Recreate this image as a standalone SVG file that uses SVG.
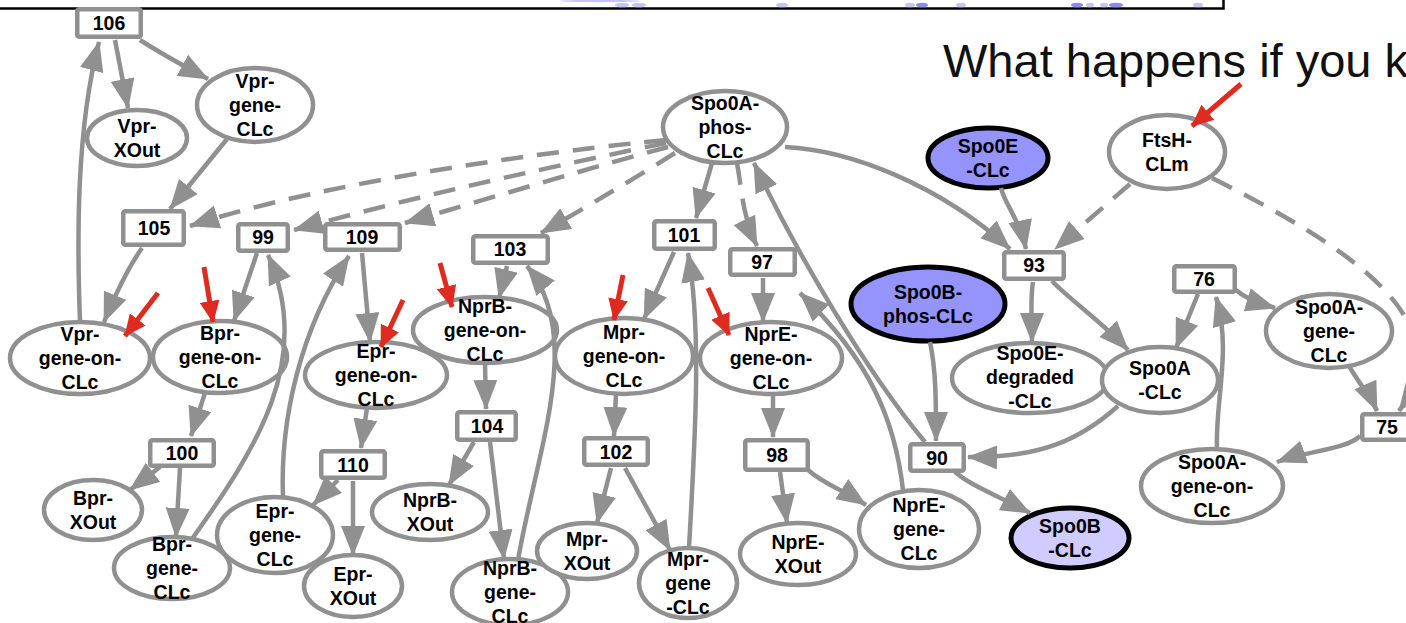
<svg xmlns="http://www.w3.org/2000/svg" width="1406" height="623" viewBox="0 0 1406 623">
<style>
.n ellipse{fill:#fff;stroke:#909090;stroke-width:4.5}
.n.blue ellipse{fill:#9494fc;stroke:#000;stroke-width:5}
.n.lav ellipse{fill:#d0ccff;stroke:#000;stroke-width:5}
.b rect{fill:#fff;stroke:#909090;stroke-width:4.5}
.t{font-family:"Liberation Sans",Arial,Helvetica,sans-serif;font-weight:bold;font-size:19.5px;text-anchor:middle;fill:#000}
#edges path{fill:none;stroke:#909090;stroke-width:4.5;marker-end:url(#ah)}
#edges path.d{stroke-dasharray:22 14}
#marks path{fill:none;stroke:#df2a20;stroke-width:5;marker-end:url(#rh)}
.tiny{fill:#c4c4f6;stroke:none}
.tinyd{fill:#8a8aec;stroke:none}
</style>
<defs>
<marker id="ah" viewBox="0 0 30 24" refX="29" refY="12" markerWidth="30" markerHeight="24" markerUnits="userSpaceOnUse" orient="auto"><path d="M0,0L30,12L0,24z" fill="#909090"/></marker>
<marker id="rh" viewBox="0 0 22 20" refX="21" refY="10" markerWidth="22" markerHeight="20" markerUnits="userSpaceOnUse" orient="auto"><path d="M0,0L22,10L0,20z" fill="#df2a20"/></marker>
</defs>
<rect x="0" y="0" width="1406" height="623" fill="#fff"/>
<g id="frame">
<path d="M0,8.5H1223.5V0" fill="none" stroke="#000" stroke-width="2.5"/>
<ellipse class="tiny" cx="600" cy="1" rx="40" ry="1.2"/>
<ellipse class="tiny" cx="622" cy="5" rx="7" ry="2.3"/>
<ellipse class="tiny" cx="639" cy="5" rx="7" ry="2.3"/>
<ellipse class="tiny" cx="782" cy="5" rx="6" ry="2.3"/>
<ellipse class="tiny" cx="910" cy="5" rx="5" ry="2.3"/>
<ellipse class="tinyd" cx="922" cy="5" rx="6" ry="2.3"/>
<ellipse class="tiny" cx="961" cy="5" rx="5" ry="2.3"/>
<ellipse class="tinyd" cx="1077" cy="5" rx="6" ry="2.3"/>
<ellipse class="tiny" cx="1090" cy="5" rx="4" ry="2.3"/>
<ellipse class="tiny" cx="1104" cy="5" rx="4" ry="2.3"/>
<ellipse class="tinyd" cx="1116" cy="5" rx="7" ry="2.3"/>
<ellipse class="tiny" cx="1198" cy="5" rx="5" ry="2.3"/>
</g>
<text x="943" y="77" font-family="Liberation Sans,Arial,Helvetica,sans-serif" font-size="47" fill="#111">What happens if you k</text>

<g id="n_VprXOut" class="n"><ellipse cx="137" cy="138" rx="50" ry="28"/><text class="t" y="133"><tspan x="137">Vpr-</tspan><tspan x="137" dy="24">XOut</tspan></text></g>
<g id="n_VprGene" class="n"><ellipse cx="255" cy="105" rx="58" ry="37"/><text class="t" y="88"><tspan x="255">Vpr-</tspan><tspan x="255" dy="24">gene-</tspan><tspan x="255" dy="24">CLc</tspan></text></g>
<g id="n_VprOn" class="n"><ellipse cx="80" cy="358" rx="70" ry="36"/><text class="t" y="341"><tspan x="80">Vpr-</tspan><tspan x="80" dy="24">gene-on-</tspan><tspan x="80" dy="24">CLc</tspan></text></g>
<g id="n_BprOn" class="n"><ellipse cx="220" cy="357" rx="67" ry="36"/><text class="t" y="340"><tspan x="220">Bpr-</tspan><tspan x="220" dy="24">gene-on-</tspan><tspan x="220" dy="24">CLc</tspan></text></g>
<g id="n_BprXOut" class="n"><ellipse cx="93" cy="510" rx="49" ry="30"/><text class="t" y="505"><tspan x="93">Bpr-</tspan><tspan x="93" dy="24">XOut</tspan></text></g>
<g id="n_BprGene" class="n"><ellipse cx="172" cy="568" rx="58" ry="31"/><text class="t" y="551"><tspan x="172">Bpr-</tspan><tspan x="172" dy="24">gene-</tspan><tspan x="172" dy="24">CLc</tspan></text></g>
<g id="n_EprOn" class="n"><ellipse cx="376" cy="375" rx="71" ry="33"/><text class="t" y="358"><tspan x="376">Epr-</tspan><tspan x="376" dy="24">gene-on-</tspan><tspan x="376" dy="24">CLc</tspan></text></g>
<g id="n_EprGene" class="n"><ellipse cx="275" cy="535" rx="58" ry="38"/><text class="t" y="518"><tspan x="275">Epr-</tspan><tspan x="275" dy="24">gene-</tspan><tspan x="275" dy="24">CLc</tspan></text></g>
<g id="n_EprXOut" class="n"><ellipse cx="353" cy="586" rx="49" ry="31"/><text class="t" y="581"><tspan x="353">Epr-</tspan><tspan x="353" dy="24">XOut</tspan></text></g>
<g id="n_NprBOn" class="n"><ellipse cx="485" cy="330" rx="72" ry="33"/><text class="t" y="313"><tspan x="485">NprB-</tspan><tspan x="485" dy="24">gene-on-</tspan><tspan x="485" dy="24">CLc</tspan></text></g>
<g id="n_NprBXOut" class="n"><ellipse cx="430" cy="512" rx="58" ry="28"/><text class="t" y="507"><tspan x="430">NprB-</tspan><tspan x="430" dy="24">XOut</tspan></text></g>
<g id="n_NprBGene" class="n"><ellipse cx="510" cy="592" rx="58" ry="33"/><text class="t" y="575"><tspan x="510">NprB-</tspan><tspan x="510" dy="24">gene-</tspan><tspan x="510" dy="24">CLc</tspan></text></g>
<g id="n_MprOn" class="n"><ellipse cx="624" cy="356" rx="69" ry="38"/><text class="t" y="339"><tspan x="624">Mpr-</tspan><tspan x="624" dy="24">gene-on-</tspan><tspan x="624" dy="24">CLc</tspan></text></g>
<g id="n_MprXOut" class="n"><ellipse cx="587" cy="551" rx="50" ry="28"/><text class="t" y="546"><tspan x="587">Mpr-</tspan><tspan x="587" dy="24">XOut</tspan></text></g>
<g id="n_MprGene" class="n"><ellipse cx="688" cy="583" rx="49" ry="35"/><text class="t" y="566"><tspan x="688">Mpr-</tspan><tspan x="688" dy="24">gene</tspan><tspan x="688" dy="24">-CLc</tspan></text></g>
<g id="n_NprEOn" class="n"><ellipse cx="771" cy="358" rx="71" ry="36"/><text class="t" y="341"><tspan x="771">NprE-</tspan><tspan x="771" dy="24">gene-on-</tspan><tspan x="771" dy="24">CLc</tspan></text></g>
<g id="n_NprEXOut" class="n"><ellipse cx="798" cy="554" rx="58" ry="31"/><text class="t" y="549"><tspan x="798">NprE-</tspan><tspan x="798" dy="24">XOut</tspan></text></g>
<g id="n_NprEGene" class="n"><ellipse cx="919" cy="529" rx="60" ry="39"/><text class="t" y="512"><tspan x="919">NprE-</tspan><tspan x="919" dy="24">gene-</tspan><tspan x="919" dy="24">CLc</tspan></text></g>
<g id="n_Spo0APhos" class="n"><ellipse cx="725" cy="127" rx="62" ry="36"/><text class="t" y="110"><tspan x="725">Spo0A-</tspan><tspan x="725" dy="24">phos-</tspan><tspan x="725" dy="24">CLc</tspan></text></g>
<g id="n_Spo0E" class="n blue"><ellipse cx="988" cy="158" rx="60" ry="30"/><text class="t" y="153"><tspan x="988">Spo0E</tspan><tspan x="988" dy="24">-CLc</tspan></text></g>
<g id="n_FtsH" class="n"><ellipse cx="1167" cy="152" rx="58" ry="37"/><text class="t" y="147"><tspan x="1167">FtsH-</tspan><tspan x="1167" dy="24">CLm</tspan></text></g>
<g id="n_Spo0BPhos" class="n blue"><ellipse cx="928" cy="304" rx="77" ry="37"/><text class="t" y="299"><tspan x="928">Spo0B-</tspan><tspan x="928" dy="24">phos-CLc</tspan></text></g>
<g id="n_Spo0EDeg" class="n"><ellipse cx="1030" cy="378" rx="78" ry="35"/><text class="t" y="360"><tspan x="1030">Spo0E-</tspan><tspan x="1030" dy="24">degraded</tspan><tspan x="1030" dy="24">-CLc</tspan></text></g>
<g id="n_Spo0A" class="n"><ellipse cx="1160" cy="380" rx="58" ry="33"/><text class="t" y="375"><tspan x="1160">Spo0A</tspan><tspan x="1160" dy="24">-CLc</tspan></text></g>
<g id="n_Spo0AGene" class="n"><ellipse cx="1329" cy="331" rx="63" ry="37"/><text class="t" y="314"><tspan x="1329">Spo0A-</tspan><tspan x="1329" dy="24">gene-</tspan><tspan x="1329" dy="24">CLc</tspan></text></g>
<g id="n_Spo0AOn" class="n"><ellipse cx="1212" cy="486" rx="71" ry="37"/><text class="t" y="469"><tspan x="1212">Spo0A-</tspan><tspan x="1212" dy="24">gene-on-</tspan><tspan x="1212" dy="24">CLc</tspan></text></g>
<g id="n_Spo0B" class="n lav"><ellipse cx="1070" cy="538" rx="59" ry="30"/><text class="t" y="533"><tspan x="1070">Spo0B</tspan><tspan x="1070" dy="24">-CLc</tspan></text></g>

<g id="r106" class="b"><rect x="77.25" y="9.25" width="63.5" height="27.5" rx="2"/><text class="t" x="109" y="30">106</text></g>
<g id="r105" class="b"><rect x="123.25" y="211.25" width="60.5" height="33.5" rx="2"/><text class="t" x="154" y="235">105</text></g>
<g id="r99" class="b"><rect x="238.25" y="224.25" width="49.5" height="26.5" rx="2"/><text class="t" x="263" y="244">99</text></g>
<g id="r109" class="b"><rect x="325.25" y="224.25" width="74.5" height="25.5" rx="2"/><text class="t" x="362" y="244">109</text></g>
<g id="r103" class="b"><rect x="473.25" y="236.25" width="74.5" height="26.5" rx="2"/><text class="t" x="510" y="256">103</text></g>
<g id="r101" class="b"><rect x="654.25" y="221.25" width="60.5" height="27.5" rx="2"/><text class="t" x="684" y="242">101</text></g>
<g id="r97" class="b"><rect x="730.25" y="249.25" width="64.5" height="25.5" rx="2"/><text class="t" x="762" y="269">97</text></g>
<g id="r93" class="b"><rect x="1004.25" y="252.25" width="59.5" height="26.5" rx="2"/><text class="t" x="1034" y="272">93</text></g>
<g id="r76" class="b"><rect x="1174.25" y="266.25" width="60.5" height="25.5" rx="2"/><text class="t" x="1204" y="286">76</text></g>
<g id="r100" class="b"><rect x="150.25" y="440.25" width="63.5" height="25.5" rx="2"/><text class="t" x="182" y="460">100</text></g>
<g id="r110" class="b"><rect x="321.25" y="451.25" width="63.5" height="26.5" rx="2"/><text class="t" x="353" y="472">110</text></g>
<g id="r104" class="b"><rect x="457.25" y="412.25" width="58.5" height="27.5" rx="2"/><text class="t" x="487" y="433">104</text></g>
<g id="r102" class="b"><rect x="584.25" y="438.25" width="63.5" height="26.5" rx="2"/><text class="t" x="616" y="459">102</text></g>
<g id="r98" class="b"><rect x="745.25" y="440.25" width="62.5" height="29.5" rx="2"/><text class="t" x="777" y="462">98</text></g>
<g id="r90" class="b"><rect x="910.25" y="444.25" width="53.5" height="26.5" rx="2"/><text class="t" x="937" y="465">90</text></g>
<g id="r75" class="b"><rect x="1362.25" y="414.25" width="51.5" height="25.5" rx="2"/><text class="t" x="1387" y="434">75</text></g>

<g id="edges">
<path d="M115,40L128,108"/>
<path d="M140,40Q165,56 208,79"/>
<path d="M80,322C77,240 76,130 99,42"/>
<path d="M227,139L170,209"/>
<path d="M142,248C130,265 118,288 104,322"/>
<path class="d" d="M666,140C560,150 330,180 190,226"/>
<path class="d" d="M666,143C560,165 420,195 294,230"/>
<path class="d" d="M668,147C600,165 500,195 405,223"/>
<path class="d" d="M675,153C640,175 590,205 541,233"/>
<path d="M257,253L234,321"/>
<path d="M192,539C255,450 315,360 268,255"/>
<path d="M205,393L191,436"/>
<path d="M160,467L130,490"/>
<path d="M180,468L176,537"/>
<path d="M283,497C280,420 300,330 349,256"/>
<path d="M362,253L370,342"/>
<path d="M367,408L361,448"/>
<path d="M338,480L313,505"/>
<path d="M353,481L353,555"/>
<path d="M507,266L499,298"/>
<path d="M485,363L486,409"/>
<path d="M474,442L449,485"/>
<path d="M490,442L504,559"/>
<path d="M518,560C537,450 585,335 527,266"/>
<path d="M712,163L696,218"/>
<path class="d" d="M737,163C742,190 742,215 757,246"/>
<path d="M674,252L644,319"/>
<path d="M689,548C695,440 702,330 688,253"/>
<path d="M763,278L763,322"/>
<path d="M773,395L773,437"/>
<path d="M780,472L787,523"/>
<path d="M808,470C825,485 840,488 866,505"/>
<path d="M903,490C895,420 870,360 800,293"/>
<path d="M925,442C865,370 795,250 754,163"/>
<path d="M616,394L614,436"/>
<path d="M611,468L597,523"/>
<path d="M625,468L670,550"/>
<path d="M785,147C850,150 940,185 1010,249"/>
<path d="M1001,188C1005,205 1020,220 1026,249"/>
<path class="d" d="M1130,184L1055,249"/>
<path class="d" d="M1212,178C1345,245 1465,320 1399,411"/>
<path d="M1349,366C1360,385 1370,395 1377,411"/>
<path d="M1360,436C1345,450 1310,450 1277,462"/>
<path d="M1217,449C1215,400 1232,350 1216,297"/>
<path d="M1198,294L1176,348"/>
<path d="M1236,290C1245,298 1255,302 1275,308"/>
<path d="M1033,282C1030,300 1032,320 1032,342"/>
<path d="M1052,281C1070,300 1100,320 1128,350"/>
<path d="M930,342C936,370 936,400 936,441"/>
<path d="M1118,406C1080,440 1040,458 968,457"/>
<path d="M955,472C970,485 990,492 1030,513"/>
</g>

<g id="marks">
<path d="M158,293L125,336"/>
<path d="M204,267L213,322"/>
<path d="M403,300L381,347"/>
<path d="M440,263L452,307"/>
<path d="M623,275L614,320"/>
<path d="M708,288L729,335"/>
<path d="M1241,84L1192,126"/>
</g>
</svg>
